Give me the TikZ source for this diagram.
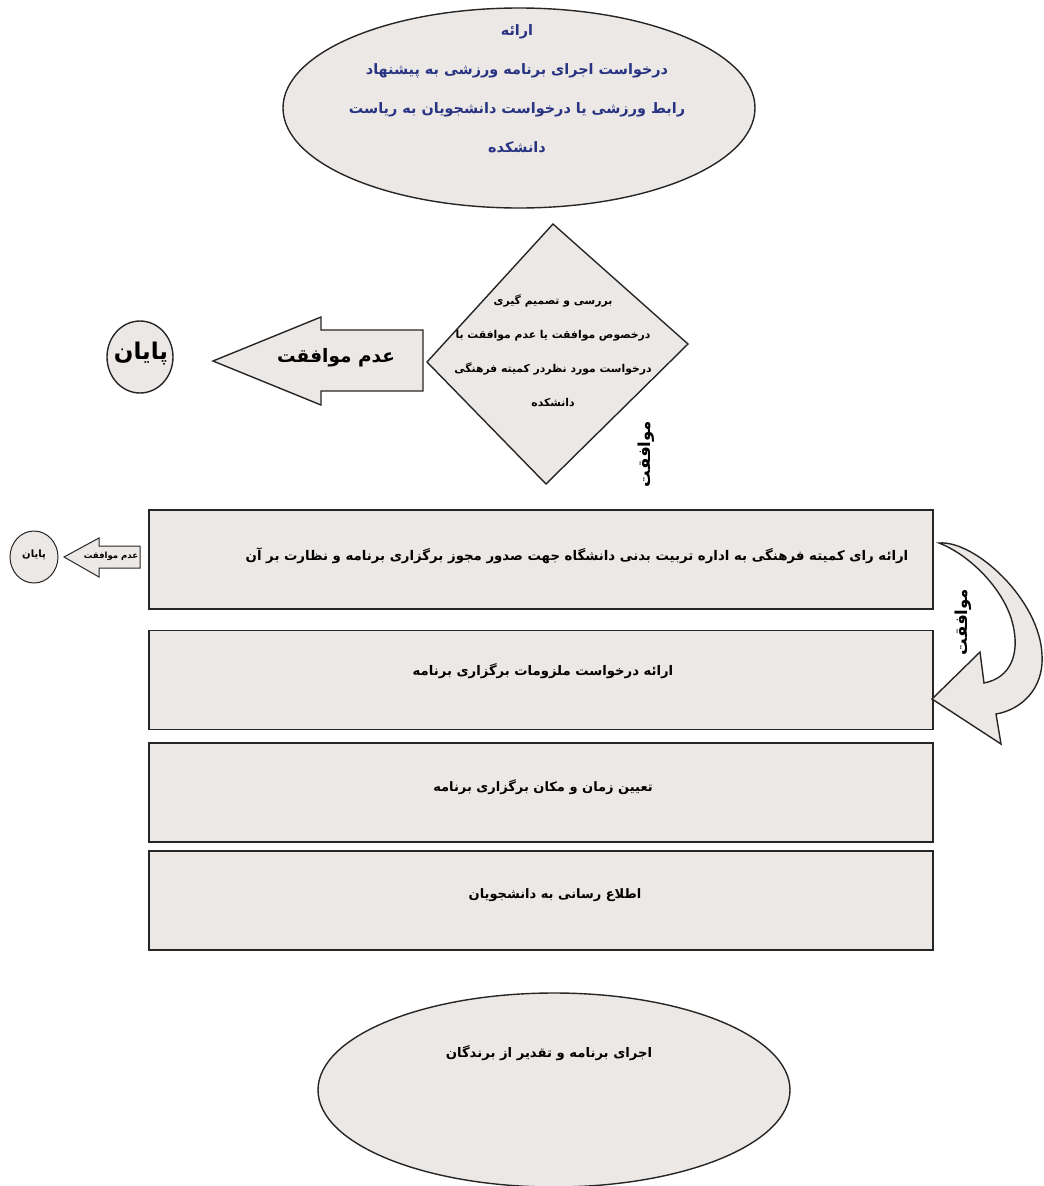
\documentclass[tikz,border=0pt]{standalone}
\usepackage{fontspec}
\usetikzlibrary{shapes.geometric}
\TeXXeTstate=1
\newfontfamily\fa[Script=Arabic]{DejaVu Sans}
\newcommand\myfs[2]{\fontsize{#1}{#2}\selectfont}
\definecolor{fillc}{RGB}{236,232,230}
\definecolor{navy}{RGB}{40,52,130}
\begin{document}
\begin{tikzpicture}[x=1pt,y=-1pt,
  shp/.style={draw=black!85, line width=1.4pt, fill=fillc},
  txt/.style={inner sep=0pt, align=center, text=black},
  boxst/.style={shp, rectangle, minimum width=784pt, minimum height=99pt, inner sep=0pt}
]
\useasboundingbox (0,0) rectangle (1044,1186);

% top ellipse
\node[shp, ellipse, minimum width=472pt, minimum height=200pt, inner sep=0pt] (top) at (519,108) {};
\node[txt, text=navy, font=\fa\bfseries\myfs{14.4}{39}] (toptxt) at (517,89)
  {\beginR ارائه\endR\\
   \beginR درخواست اجرای برنامه ورزشی به پیشنهاد\endR\\
   \beginR رابط ورزشی یا درخواست دانشجویان به ریاست\endR\\
   \beginR دانشکده\endR};

% decision diamond
\path[shp] (553,224) coordinate (dT) -- (688,344) coordinate (dR)
  -- (546,484) coordinate (dB) -- (427,362) coordinate (dL) -- cycle;
\node[txt, font=\fa\bfseries\myfs{10.8}{34}] (dectxt) at (553,351)
  {\beginR بررسی و تصمیم گیری\endR\\
   \beginR درخصوص موافقت یا عدم موافقت با\endR\\
   \beginR درخواست مورد نظردر کمیته فرهنگی\endR\\
   \beginR دانشکده\endR};
\node[txt, rotate=90, font=\fa\bfseries\myfs{16.5}{18}] (ok1) at (646,454) {\beginR موافقت\endR};

% big reject arrow
\path[shp] (423,330) coordinate (a1) -- (321,330) -- (321,317) -- (213,361) coordinate (atip)
  -- (321,405) -- (321,391) -- (423,391) -- cycle;
\node[txt, font=\fa\bfseries\myfs{18.5}{24}] (rej1) at (336,358) {\beginR عدم موافقت\endR};

% end circle
\node[shp, ellipse, minimum width=66pt, minimum height=72pt, inner sep=0pt] (end1) at (140,357) {};
\node[txt, font=\fa\bfseries\myfs{23}{26}] (end1txt) at (141,354) {\beginR پایان\endR};

% boxes
\node[boxst] (b1) at (541,559.5) {};
\node[boxst] (b2) at (541,680) {};
\node[boxst] (b3) at (541,792.5) {};
\node[boxst] (b4) at (541,900.5) {};
\node[txt, font=\fa\bfseries\myfs{13.3}{16}] (b1txt) at (577,556)
  {\beginR ارائه رای کمیته فرهنگی به اداره تربیت بدنی دانشگاه جهت صدور مجوز برگزاری برنامه و نظارت بر آن\endR};
\node[txt, font=\fa\bfseries\myfs{13.2}{16}] (b2txt) at (543,671)
  {\beginR ارائه درخواست ملزومات برگزاری برنامه\endR};
\node[txt, font=\fa\bfseries\myfs{13}{16}] (b3txt) at (543,787)
  {\beginR تعیین زمان و مکان برگزاری برنامه\endR};
\node[txt, font=\fa\bfseries\myfs{13}{16}] (b4txt) at (555,895)
  {\beginR اطلاع رسانی به دانشجویان\endR};

% small reject arrow and end circle
\path[shp, line width=1pt] (140,546) coordinate (s1) -- (99,546) -- (99,538) -- (64,557) coordinate (stip)
  -- (99,577) -- (99,568) -- (140,568) -- cycle;
\node[txt, font=\fa\bfseries\myfs{8.5}{10}] (rej2) at (111,556) {\beginR عدم موافقت\endR};
\node[shp, line width=1pt, ellipse, minimum width=48pt, minimum height=52pt, inner sep=0pt] (end2) at (34,557) {};
\node[txt, font=\fa\bfseries\myfs{10}{12}] (end2txt) at (34,555) {\beginR پایان\endR};

% curved approval arrow
\path[shp] (939,543) coordinate (cT) .. controls (975,540) and (1040,600) .. (1042,655)
  .. controls (1044,690) and (1020,710) .. (996,714)
  -- (1001,744) -- (932,699) coordinate (cTip) -- (980,652) -- (984,683)
  .. controls (1010,678) and (1020,655) .. (1013,625)
  .. controls (1005,590) and (970,555) .. (939,543) -- cycle;
\node[txt, rotate=90, font=\fa\bfseries\myfs{16.5}{18}] (ok2) at (963,622) {\beginR موافقت\endR};

% final ellipse
\node[shp, ellipse, minimum width=472pt, minimum height=194pt, inner sep=0pt] (fin) at (554,1090) {};
\node[txt, font=\fa\bfseries\myfs{13.2}{16}] (fintxt) at (549,1053)
  {\beginR اجرای برنامه و تقدیر از برندگان\endR};
\end{tikzpicture}
\end{document}
